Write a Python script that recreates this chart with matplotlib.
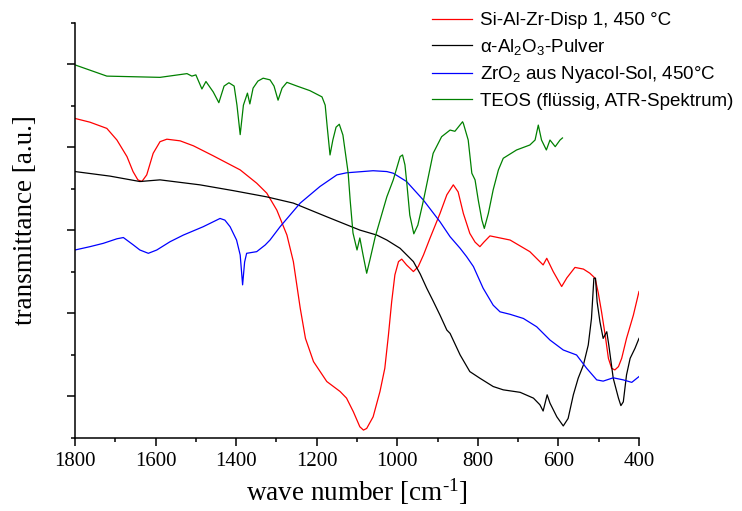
import matplotlib
matplotlib.use('Agg')
import matplotlib.pyplot as plt
import numpy as np

# IR-Spektren, Werte (Wellenzahl in cm^-1, Transmission in a.u.)

wn_red = [1800, 1763, 1721, 1696, 1671, 1656, 1644, 1634, 1622, 1606, 1589, 1572,
          1539, 1506, 1457, 1390, 1349, 1324, 1299, 1289, 1274, 1258, 1241, 1228,
          1208, 1175, 1142, 1126, 1109, 1093, 1084, 1076, 1060, 1043, 1031, 1022,
          1014, 1006, 997, 989, 977, 960, 948, 935, 919, 894, 877, 861, 849, 836,
          820, 807, 795, 785, 770, 720, 671, 638, 629, 613, 592, 579, 559, 538,
          522, 509, 501, 493, 484, 476, 468, 460, 451, 443, 431, 414, 400]
tr_red = [7.70, 7.61, 7.46, 7.18, 6.78, 6.42, 6.22, 6.18, 6.34, 6.86, 7.14, 7.20,
          7.16, 7.04, 6.80, 6.46, 6.14, 5.90, 5.49, 5.25, 4.89, 4.25, 3.13, 2.40,
          1.84, 1.36, 1.12, 0.96, 0.63, 0.27, 0.19, 0.23, 0.51, 1.12, 1.68, 2.48,
          3.28, 3.93, 4.25, 4.31, 4.17, 4.01, 4.13, 4.41, 4.81, 5.41, 5.86, 6.10,
          5.93, 5.41, 4.93, 4.72, 4.61, 4.72, 4.87, 4.77, 4.49, 4.17, 4.33, 4.01,
          3.65, 3.86, 4.11, 4.07, 3.97, 3.85, 3.49, 3.04, 2.48, 1.92, 1.68, 1.64,
          1.72, 1.92, 2.40, 2.96, 3.53]

wn_black = [1800, 1713, 1639, 1589, 1490, 1407, 1324, 1258, 1175, 1093, 1051, 1026,
            993, 960, 943, 927, 911, 894, 877, 869, 844, 820, 795, 762, 737, 695,
            662, 646, 638, 628, 621, 604, 588, 576, 563, 551, 538, 526, 518, 512,
            508, 504, 497, 489, 480, 475, 464, 451, 445, 439, 431, 422, 410, 400]
tr_black = [6.42, 6.31, 6.18, 6.22, 6.10, 5.96, 5.81, 5.66, 5.33, 5.01, 4.89, 4.77,
            4.57, 4.25, 3.95, 3.61, 3.30, 2.96, 2.60, 2.52, 2.00, 1.60, 1.44, 1.24,
            1.16, 1.10, 0.96, 0.80, 0.65, 1.04, 0.84, 0.51, 0.29, 0.47, 1.04, 1.44,
            1.76, 2.24, 2.88, 3.85, 3.85, 3.28, 2.80, 2.40, 2.56, 2.24, 1.44, 0.96,
            0.78, 0.87, 1.52, 1.92, 2.16, 2.40]

wn_blue = [1800, 1763, 1730, 1696, 1680, 1655, 1639, 1618, 1597, 1564, 1531, 1482,
           1440, 1428, 1415, 1399, 1390, 1384, 1379, 1374, 1349, 1328, 1316, 1291,
           1241, 1192, 1150, 1126, 1060, 1026, 1010, 977, 935, 894, 869, 844, 828,
           811, 787, 762, 745, 720, 687, 654, 621, 588, 555, 530, 505, 489, 464,
           439, 418, 400]
tr_blue = [4.53, 4.61, 4.69, 4.80, 4.83, 4.65, 4.53, 4.45, 4.53, 4.73, 4.89, 5.09,
           5.29, 5.25, 5.09, 4.77, 4.41, 3.69, 4.24, 4.45, 4.49, 4.65, 4.77, 5.09,
           5.66, 6.06, 6.34, 6.39, 6.44, 6.42, 6.38, 6.18, 5.73, 5.21, 4.85, 4.57,
           4.37, 4.13, 3.61, 3.20, 3.04, 2.98, 2.88, 2.68, 2.36, 2.12, 2.00, 1.68,
           1.40, 1.37, 1.45, 1.40, 1.34, 1.48]

wn_green = [1800, 1721, 1589, 1522, 1510, 1500, 1485, 1475, 1457, 1443, 1430, 1418,
            1405, 1398, 1390, 1382, 1372, 1366, 1358, 1346, 1333, 1316, 1306, 1296,
            1286, 1274, 1249, 1217, 1187, 1179, 1174, 1167, 1160, 1152, 1144, 1135,
            1122, 1117, 1110, 1100, 1093, 1085, 1076, 1068, 1055, 1026, 1010, 993,
            987, 981, 976, 969, 959, 949, 935, 911, 890, 869, 857, 838, 836, 824,
            815, 807, 799, 790, 784, 774, 762, 749, 737, 704, 671, 658, 650, 642,
            630, 621, 608, 596, 590]
tr_green = [8.99, 8.72, 8.69, 8.78, 8.72, 8.75, 8.41, 8.59, 8.34, 8.08, 8.48, 8.56,
            8.48, 8.02, 7.31, 8.02, 8.31, 8.05, 8.43, 8.60, 8.67, 8.63, 8.48, 8.14,
            8.43, 8.57, 8.48, 8.37, 8.22, 8.02, 7.50, 6.82, 7.18, 7.49, 7.56, 7.30,
            6.39, 5.73, 4.94, 4.53, 4.82, 4.41, 3.97, 4.29, 4.84, 5.81, 6.22, 6.78,
            6.82, 6.58, 6.10, 5.37, 4.92, 5.13, 5.73, 6.86, 7.26, 7.42, 7.39, 7.62,
            7.58, 7.18, 6.38, 6.22, 5.73, 5.25, 5.05, 5.41, 5.98, 6.46, 6.74, 6.94,
            7.06, 7.18, 7.54, 7.18, 6.94, 7.18, 7.02, 7.18, 7.23]

labels = ['Si-Al-Zr-Disp 1, 450 °C',
          'α-Al$_2$O$_3$-Pulver',
          'ZrO$_2$ aus Nyacol-Sol, 450°C',
          'TEOS (flüssig, ATR-Spektrum)']

plt.rcParams['mathtext.default'] = 'regular'

fig = plt.figure(figsize=(7.42, 5.11), dpi=100)
ax = fig.add_axes([0.1011, 0.1429, 0.7601, 0.8121])

lw = 0.9
l1, = ax.plot(wn_red, tr_red, color='#ff0000', lw=lw)
l2, = ax.plot(wn_black, tr_black, color='black', lw=lw)
l3, = ax.plot(wn_blue, tr_blue, color='#0000ff', lw=lw)
l4, = ax.plot(wn_green, tr_green, color='#008000', lw=lw)

ax.set_xlim(1800, 400)
ax.set_ylim(0, 10)

ax.set_xticks(np.arange(1800, 399, -200))
ax.set_xticks(np.arange(1700, 400, -200), minor=True)
ax.set_yticks([1, 3, 5, 7, 9])
ax.set_yticks([0, 2, 4, 6, 8, 10], minor=True)
ax.set_yticklabels([])

for s in ['top', 'right']:
    ax.spines[s].set_visible(False)
for s in ['left', 'bottom']:
    ax.spines[s].set_linewidth(1.1)

ax.tick_params(which='major', length=5.8, width=1.1, direction='out',
               labelsize=15, pad=4)
ax.tick_params(which='minor', length=3.2, width=1.1, direction='out')
for t in ax.get_xticklabels():
    t.set_fontfamily('Liberation Serif')

ax.set_xlabel('wave number [cm$^{\u2010 1}$]', fontsize=19.5,
              fontfamily='Liberation Serif', labelpad=4)
ax.set_ylabel('transmittance [a.u.]', fontsize=19.5,
              fontfamily='Liberation Serif')
ax.yaxis.set_label_coords(-0.065, 0.525)

leg = fig.legend([l1, l2, l3, l4], labels, loc='upper right',
                 bbox_to_anchor=(0.988, 0.976), frameon=False,
                 prop={'family': 'Liberation Sans', 'size': 13.5},
                 handlelength=2.1, handletextpad=0.43, labelspacing=0.4,
                 borderpad=0, borderaxespad=0)

fig.savefig('out.png', dpi=100)
